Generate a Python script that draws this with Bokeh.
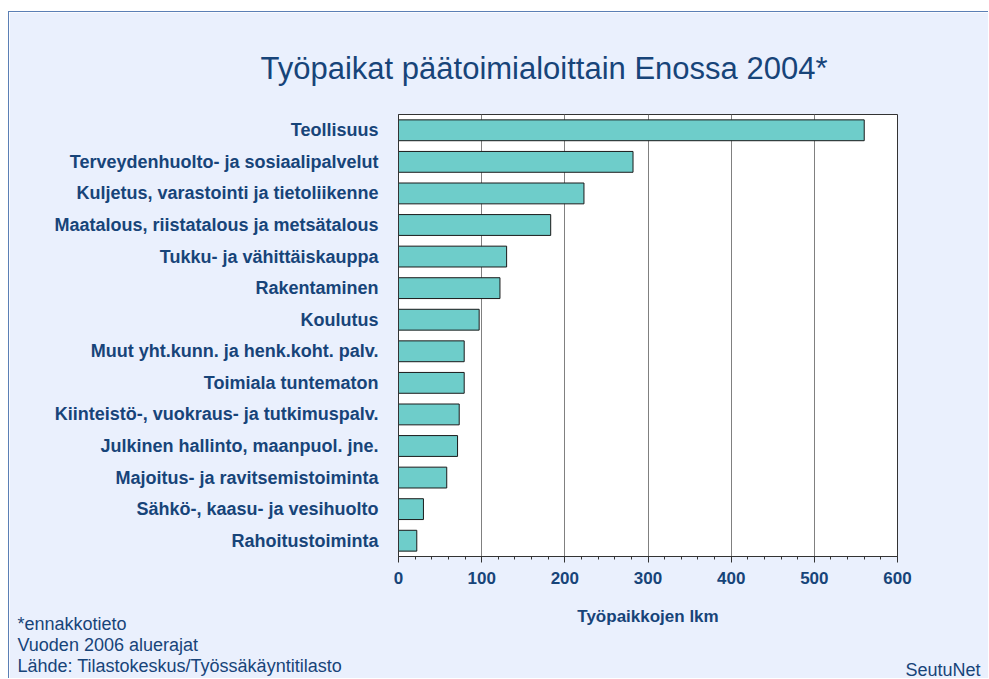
from bokeh.plotting import figure
from bokeh.models import FactorRange, ColumnDataSource, Range1d, FixedTicker, Title
from bokeh.embed import file_html
from bokeh.resources import INLINE

categories = [
    "Teollisuus",
    "Terveydenhuolto- ja sosiaalipalvelut",
    "Kuljetus, varastointi ja tietoliikenne",
    "Maatalous, riistatalous ja metsätalous",
    "Tukku- ja vähittäiskauppa",
    "Rakentaminen",
    "Koulutus",
    "Muut yht.kunn. ja henk.koht. palv.",
    "Toimiala tuntematon",
    "Kiinteistö-, vuokraus- ja tutkimuspalv.",
    "Julkinen hallinto, maanpuol. jne.",
    "Majoitus- ja ravitsemistoiminta",
    "Sähkö-, kaasu- ja vesihuolto",
    "Rahoitustoiminta",
]
values = [560, 282, 223, 183, 130, 122, 97, 79, 79, 73, 71, 58, 30, 22]
x_ticks = [0, 100, 200, 300, 400, 500, 600]
title_text = "Työpaikat päätoimialoittain Enossa 2004*"
notes = ["*ennakkotieto", "Vuoden 2006 aluerajat", "Lähde: Tilastokeskus/Työssäkäyntitilasto"]
brand = "SeutuNet"

TEXT = "#174479"
BG = "#EAF0FD"

p = figure(
    width=980, height=667,
    y_range=FactorRange(*reversed(categories)),
    x_range=Range1d(0, 600),
    output_backend="svg", toolbar_location=None,
    min_border_left=389, min_border_right=92,
    min_border_top=102, min_border_bottom=123,
)
p.styles = {"margin-left": "8px", "margin-top": "11px",
            "border-left": "1px solid #5B7FB5", "border-top": "1px solid #5B7FB5"}
p.border_fill_color = BG
p.background_fill_color = "white"
p.outline_line_color = "#333333"
p.outline_line_width = 1

src = ColumnDataSource(dict(cat=categories, val=values))
p.hbar(y="cat", right="val", left=0, height=0.66, source=src,
       fill_color="#6ECDCA", line_color="#1a1a1a", line_width=1)

p.xaxis.ticker = FixedTicker(ticks=x_ticks, minor_ticks=list(range(0, 601, 20)))
p.xaxis.axis_label = "Työpaikkojen lkm"
p.xaxis.axis_label_text_font = "Liberation Sans"
p.xaxis.axis_label_text_font_style = "bold"
p.xaxis.axis_label_text_font_size = "17px"
p.xaxis.axis_label_text_color = TEXT
p.xaxis.axis_label_standoff = 20
p.xaxis.major_label_text_font = "Liberation Sans"
p.xaxis.major_label_text_font_style = "bold"
p.xaxis.major_label_text_font_size = "17px"
p.xaxis.major_label_text_color = TEXT
p.xaxis.major_label_standoff = 9
p.xaxis.axis_line_color = "#333333"
p.xaxis.major_tick_line_color = "#333333"
p.xaxis.minor_tick_line_color = "#333333"
p.xaxis.major_tick_out = 6
p.xaxis.major_tick_in = 0
p.xaxis.minor_tick_out = 3
p.xaxis.minor_tick_in = 0

p.yaxis.major_label_text_font = "Liberation Sans"
p.yaxis.major_label_text_font_style = "bold"
p.yaxis.major_label_text_font_size = "18px"
p.yaxis.major_label_text_color = TEXT
p.yaxis.major_label_standoff = 14
p.yaxis.major_tick_line_color = None
p.yaxis.axis_line_color = "#333333"

p.ygrid.grid_line_color = None
p.xgrid.grid_line_color = "#808080"
p.xgrid.grid_line_width = 1

p.title.text = title_text
p.title.align = "left"
p.title.offset = -138
p.title.standoff = 58
p.title.text_font = "Liberation Sans"
p.title.text_font_style = "normal"
p.title.text_font_size = "31px"
p.title.text_color = TEXT

note_standoffs = [-30, 12, -14]
for t, s in zip(notes, note_standoffs):
    p.add_layout(Title(text=t, align="left", offset=-381, standoff=s, vertical_align="top",
                       text_font="Liberation Sans", text_font_style="normal",
                       text_font_size="18px", text_color=TEXT), "below")
p.add_layout(Title(text=brand, align="right", offset=-83, standoff=-22, vertical_align="top",
                   text_font="Liberation Sans", text_font_style="normal",
                   text_font_size="18px", text_color=TEXT), "below")

open("out.html", "w").write(file_html(p, INLINE))
